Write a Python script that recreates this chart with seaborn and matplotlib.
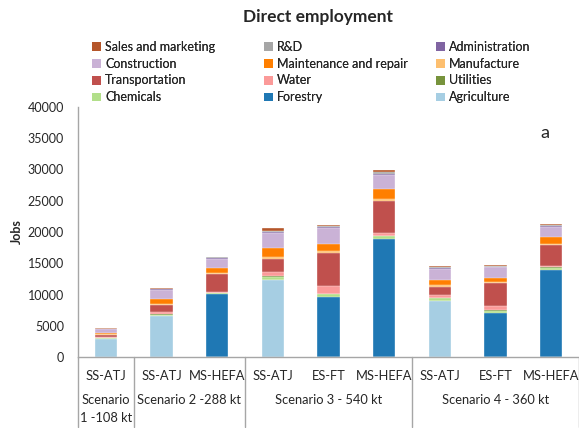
import numpy as np
import pandas as pd
import matplotlib
matplotlib.use("Agg")
import matplotlib.pyplot as plt
import seaborn as sns
from matplotlib.patches import Patch
from matplotlib.transforms import blended_transform_factory

sns.set_style("white")
plt.rcParams['font.family'] = ['Lato', 'DejaVu Sans']

# ---------------------------------------------------------------------------
# Data (jobs per sector)
# ---------------------------------------------------------------------------
pathways = ['SS-ATJ', 'SS-ATJ', 'MS-HEFA', 'SS-ATJ', 'ES-FT', 'MS-HEFA',
            'SS-ATJ', 'ES-FT', 'MS-HEFA']
bar_ids = ['S1 SS-ATJ', 'S2 SS-ATJ', 'S2 MS-HEFA', 'S3 SS-ATJ', 'S3 ES-FT',
           'S3 MS-HEFA', 'S4 SS-ATJ', 'S4 ES-FT', 'S4 MS-HEFA']
scenarios = ['Scenario\n1 -108 kt', 'Scenario 2 -288 kt',
             'Scenario 3 - 540 kt', 'Scenario 4 - 360 kt']
scenario_sizes = [1, 2, 3, 3]

# stacking order, bottom to top
sectors = ['Agriculture', 'Forestry', 'Chemicals', 'Utilities', 'Water',
           'Transportation', 'Manufacture', 'Maintenance and repair',
           'Construction', 'Administration', 'R&D', 'Sales and marketing']

agriculture = [2900, 6550, 0, 12370, 0, 0, 9010, 0, 0]
forestry = [0, 0, 10080, 0, 9650, 18930, 0, 7090, 13970]
chemicals = [100, 250, 150, 500, 380, 400, 400, 300, 300]
utilities = [30, 50, 60, 90, 100, 80, 80, 70, 70]
water = [120, 300, 120, 640, 1230, 370, 370, 750, 160]
transportation = [420, 1230, 2930, 2130, 5330, 5230, 1390, 3570, 3410]
manufacture = [100, 120, 120, 200, 270, 270, 210, 160, 210]
maintenance = [250, 800, 850, 1490, 1120, 1600, 910, 750, 1070]
construction = [500, 1440, 1440, 2500, 2500, 2240, 1710, 1650, 1550]
administration = [40, 80, 80, 120, 150, 150, 130, 110, 150]
rnd = [50, 120, 120, 200, 200, 330, 200, 150, 200]
sales = [80, 120, 110, 370, 150, 320, 150, 110, 130]

values = [agriculture, forestry, chemicals, utilities, water, transportation,
          manufacture, maintenance, construction, administration, rnd, sales]

colors = {
    'Agriculture': '#a6cee3',
    'Forestry': '#1f78b4',
    'Chemicals': '#b2df8a',
    'Utilities': '#77933c',
    'Water': '#fb9a99',
    'Transportation': '#c0504d',
    'Manufacture': '#fdbf6f',
    'Maintenance and repair': '#ff7f00',
    'Construction': '#cab2d6',
    'Administration': '#8064a2',
    'R&D': '#a6a6a6',
    'Sales and marketing': '#b5562a',
}

cum = np.cumsum(np.array(values), axis=0)

# ---------------------------------------------------------------------------
# Figure
# ---------------------------------------------------------------------------
fig = plt.figure(figsize=(5.79, 4.28), dpi=100)
ax = fig.add_axes([78 / 579, 71 / 428, 501 / 579, 250 / 428])

# stacked bars: draw cumulative totals from the top layer down
for k in range(len(sectors) - 1, -1, -1):
    sns.barplot(x=bar_ids, y=cum[k], order=bar_ids, color=colors[sectors[k]],
                width=0.4, edgecolor='white', linewidth=0.25, saturation=1,
                ax=ax)

ax.set_xlim(-0.5, 8.5)
ax.set_ylim(0, 40000)
ax.set_yticks(np.arange(0, 40001, 5000))
ax.set_yticklabels([str(v) for v in range(0, 40001, 5000)], fontsize=9)
ax.set_xticks([])
ax.set_xlabel('')
ax.set_ylabel('')
ax.tick_params(axis='y', length=0, pad=10)

for side in ['top', 'right']:
    ax.spines[side].set_visible(False)
for side in ['left', 'bottom']:
    ax.spines[side].set_color('#a6a6a6')
    ax.spines[side].set_linewidth(1)

# two-level category axis
trans = blended_transform_factory(ax.transData, ax.transAxes)
for i, p in enumerate(pathways):
    ax.text(i, -19 / 250, p, transform=trans, ha='center', va='center',
            fontsize=9.3, clip_on=False)

edges = np.concatenate([[0], np.cumsum(scenario_sizes)]) - 0.5
for e in edges:
    ax.plot([e, e], [0, -70 / 250], transform=trans, color='#a6a6a6',
            lw=1, clip_on=False)
for s, lo, hi in zip(scenarios, edges[:-1], edges[1:]):
    yy = -52 / 250 if '\n' in s else -43 / 250
    ax.text((lo + hi) / 2, yy, s, transform=trans, ha='center', va='center',
            fontsize=9.3, clip_on=False, linespacing=1.5)

# legend laid out in three columns like the original
legend_cols = [
    ['Sales and marketing', 'Construction', 'Transportation', 'Chemicals'],
    ['R&D', 'Maintenance and repair', 'Water', 'Forestry'],
    ['Administration', 'Manufacture', 'Utilities', 'Agriculture'],
]
col_x = [92, 264, 436]
for names, x0 in zip(legend_cols, col_x):
    handles = [Patch(facecolor=colors[n], edgecolor='none') for n in names]
    leg = fig.legend(handles, names, loc='upper left',
                     bbox_to_anchor=(x0 / 579, 1 - 41 / 428),
                     frameon=False, fontsize=9, borderpad=0,
                     borderaxespad=0, handlelength=0.7, handleheight=0.7,
                     handletextpad=0.35, labelspacing=0.38)
    fig.add_artist(leg)

fig.text(318 / 579, 1 - 17 / 428, 'Direct employment', ha='center',
         va='center', fontsize=12.5, fontweight='bold')
fig.text(17 / 579, 1 - 232 / 428, 'Jobs', ha='center', va='center',
         rotation=90, fontsize=9, fontweight='bold')
fig.text(545 / 579, 1 - 133 / 428, 'a', ha='center', va='center',
         fontsize=13)

fig.savefig('out.png', dpi=100)
